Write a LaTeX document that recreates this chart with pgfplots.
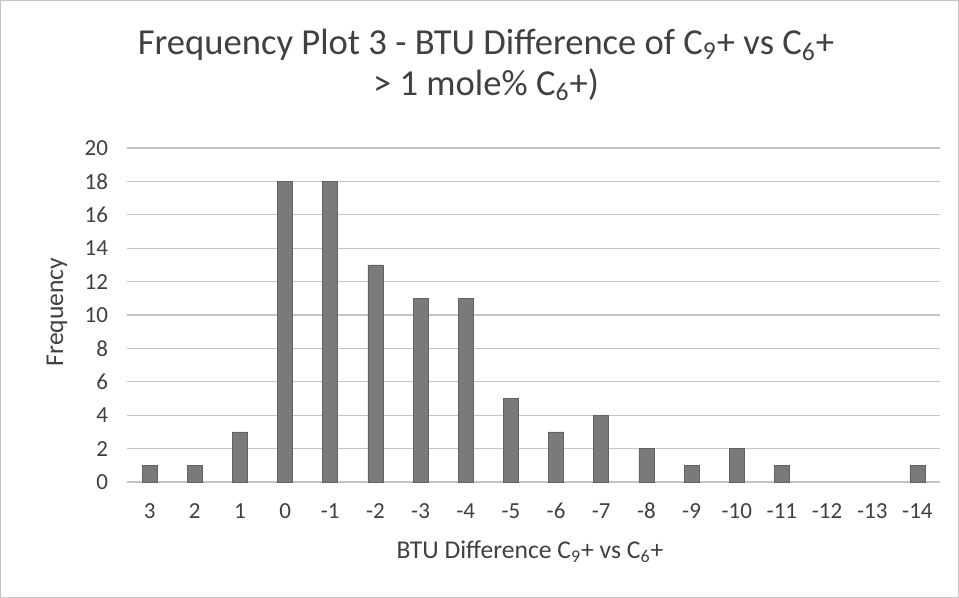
\documentclass[border=0pt]{standalone}
\usepackage{pgfplots}
\pgfplotsset{compat=1.18}
\usepackage{fontspec}
\setmainfont{Carlito}
\definecolor{bargray}{HTML}{7A7A7A}
\definecolor{gridgray}{HTML}{C4C4C4}
\definecolor{txtgray}{HTML}{404040}

\begin{document}
\begin{tikzpicture}[x=0.5pt,y=0.5pt]
  % frame of the chart area (pixel units, origin bottom left)
  \draw[gridgray, line width=0.5pt] (0.5,0.5) rectangle (958.5,597.5);
  \node[txtgray, font=\fontsize{18.3}{22}\selectfont] at (486,553) {Frequency Plot 3 - BTU Difference of C\textsubscript{9}+ vs C\textsubscript{6}+};
  \node[txtgray, font=\fontsize{18.3}{22}\selectfont] at (486,513) {> 1 mole\% C\textsubscript{6}+)};
  \node[txtgray, font=\fontsize{12.8}{15}\selectfont] at (530,46) {BTU Difference C\textsubscript{9}+ vs C\textsubscript{6}+};
  \node[txtgray, font=\fontsize{12.8}{15}\selectfont, rotate=90] at (57,286) {Frequency};

  \begin{axis}[
    at={(63.5pt,58pt)}, anchor=south west,
    scale only axis, width=406.5pt, height=167pt,
    xmin=-0.5, xmax=17.5, ymin=0, ymax=20,
    ytick={0,2,...,20},
    xtick={0,...,17},
    xticklabels={3,2,1,0,-1,-2,-3,-4,-5,-6,-7,-8,-9,-10,-11,-12,-13,-14},
    axis line style={draw=none},
    major tick length=0pt,
    ymajorgrids, grid style={gridgray, line width=0.6pt},
    ticklabel style={txtgray, font=\fontsize{11.5}{13}\selectfont},
    /pgf/number format/assume math mode=true,
    xticklabel style={anchor=north, text height=1.6ex, text depth=0.3ex, yshift=-7pt},
    yticklabel style={xshift=-6pt},
    ybar, bar width=7.5pt,
    clip=false,
  ]
  \addplot[fill=bargray, draw=bargray!80!black, line width=0.3pt]
    coordinates {(0,1)(1,1)(2,3)(3,18)(4,18)(5,13)(6,11)(7,11)(8,5)(9,3)(10,4)(11,2)(12,1)(13,2)(14,1)(17,1)};
  \end{axis}
\end{tikzpicture}
\end{document}
